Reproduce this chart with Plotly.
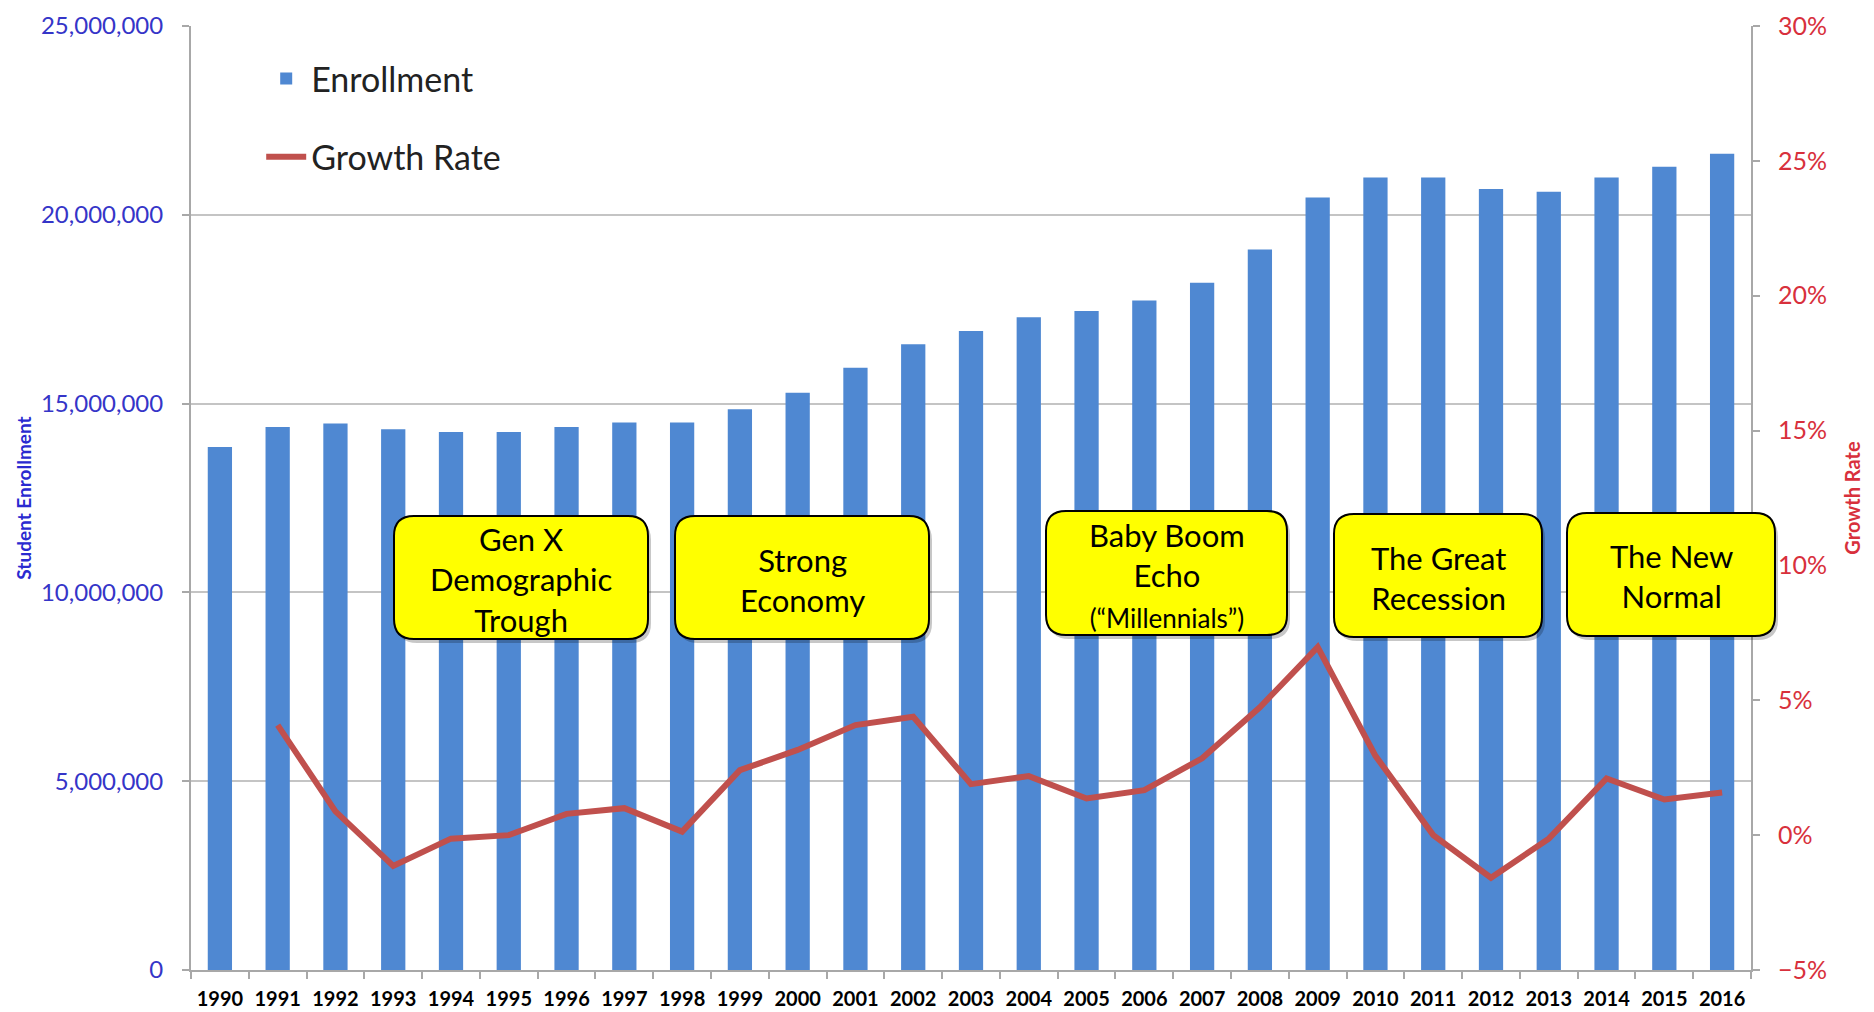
import plotly.graph_objects as go

years = [str(y) for y in range(1990, 2017)]
enrollment = [13850000, 14380000, 14470000, 14320000, 14250000, 14250000, 14380000,
              14500000, 14500000, 14850000, 15290000, 15950000, 16570000, 16920000,
              17290000, 17450000, 17730000, 18200000, 19080000, 20460000, 20990000,
              20990000, 20680000, 20610000, 20990000, 21270000, 21620000]
growth_years = years[1:]
growth_rate = [0.0408, 0.0088, -0.0114, -0.0013, 0.0000, 0.0079, 0.0100, 0.0013,
               0.0241, 0.0316, 0.0408, 0.0439, 0.0189, 0.0219, 0.0136, 0.0167,
               0.0285, 0.0474, 0.0697, 0.0294, 0.0000, -0.0158, -0.0013, 0.0210,
               0.0132, 0.0158]

box_texts = ["Gen X<br>Demographic<br>Trough",
             "Strong<br>Economy",
             "Baby Boom<br>Echo<br><span style='font-size:26px'>(“Millennials”)</span>",
             "The Great<br>Recession",
             "The New<br>Normal"]
# page-pixel boxes (x0, x1, y0, y1)
box_px = [(394, 648, 516, 639), (675, 929, 516, 639), (1046, 1287, 511, 635),
          (1334, 1542, 514, 637), (1567, 1775, 513, 636)]

OFF = 8  # page body margin
W, H = 1874, 1012
L, R, T, B = 191, 1751, 26, 970   # plot area in page pixels
PW, PH = R - L, B - T

def px_to_paper(x, y):
    return (x - L) / PW, (B - y) / PH

def rounded_path(x0, x1, y0, y1, r=20):
    def P(x, y):
        px, py = px_to_paper(x, y)
        return f"{px:.5f},{py:.5f}"
    return (f"M {P(x0 + r, y0)} L {P(x1 - r, y0)} Q {P(x1, y0)} {P(x1, y0 + r)} "
            f"L {P(x1, y1 - r)} Q {P(x1, y1)} {P(x1 - r, y1)} "
            f"L {P(x0 + r, y1)} Q {P(x0, y1)} {P(x0, y1 - r)} "
            f"L {P(x0, y0 + r)} Q {P(x0, y0)} {P(x0 + r, y0)} Z")

fig = go.Figure()
fig.add_trace(go.Bar(x=years, y=enrollment, name="Enrollment",
                     marker=dict(color="#4f88d2", line=dict(width=0)),
                     legendgroup="a"))
fig.add_trace(go.Scatter(x=growth_years, y=growth_rate, name="Growth Rate",
                         mode="lines", line=dict(color="#c0504d", width=6),
                         yaxis="y2", legendgroup="b"))

shapes = []
annotations = []
for (x0, x1, y0, y1), txt in zip(box_px, box_texts):
    shapes.append(dict(type="path", xref="paper", yref="paper",
                       path=rounded_path(x0 + 3, x1 + 3, y0 + 4, y1 + 4),
                       fillcolor="rgba(0,0,0,0.22)", line=dict(width=0), layer="above"))
    shapes.append(dict(type="path", xref="paper", yref="paper",
                       path=rounded_path(x0, x1, y0, y1),
                       fillcolor="#ffff00", line=dict(color="black", width=2), layer="above"))
    cx, cy = px_to_paper((x0 + x1) / 2, (y0 + y1) / 2 + 2)
    annotations.append(dict(xref="paper", yref="paper", x=cx, y=cy, text=txt,
                            showarrow=False, xanchor="center", yanchor="middle",
                            font=dict(family="Lato", size=31, color="black")))

lx, ly = px_to_paper(265, 50)

fig.update_layout(
    width=W, height=H,
    margin=dict(l=L - OFF, r=W - (R - OFF), t=T - OFF, b=H - (B - OFF), autoexpand=False),
    plot_bgcolor="white", paper_bgcolor="white",
    bargap=0.58,
    font=dict(family="Lato"),
    showlegend=True,
    legend=dict(x=0.045, y=ly, xanchor="left", yanchor="top",
                font=dict(family="Lato", size=34, color="#222222"),
                bgcolor="rgba(0,0,0,0)", tracegroupgap=31, traceorder="grouped",
                itemwidth=40),
    xaxis=dict(type="category", showgrid=False, showline=True, linecolor="#a8a8a8",
               linewidth=2, ticks="outside", tickson="boundaries", ticklen=7,
               tickcolor="#a8a8a8", tickwidth=2,
               tickfont=dict(family="Lato", size=20, color="black", weight="bold"),
               ticklabelstandoff=10, tickangle=0),
    yaxis=dict(range=[0, 25000000], dtick=5000000, tickformat=",d",
               showgrid=True, gridcolor="#c4c4c4", gridwidth=2,
               showline=True, linecolor="#a8a8a8", linewidth=2,
               ticks="outside", ticklen=7, tickcolor="#a8a8a8", tickwidth=2,
               tickfont=dict(family="Lato", size=24, color="#3535c8"),
               ticklabelstandoff=14, ticklabeloverflow="allow", zeroline=False,
               title=dict(text="Student Enrollment", standoff=4,
                          font=dict(family="Lato", size=19, color="#2a2ad0", weight="bold"))),
    yaxis2=dict(range=[-0.05, 0.30], dtick=0.05, tickformat=".0%", overlaying="y",
                side="right", showgrid=False, showline=True, linecolor="#a8a8a8",
                linewidth=2, ticks="outside", ticklen=7, tickcolor="#a8a8a8",
                tickwidth=2, zeroline=False, ticklabeloverflow="allow",
                tickfont=dict(family="Lato", size=25, color="#d8303c"),
                ticklabelstandoff=13,
                title=dict(text="Growth Rate", standoff=20,
                           font=dict(family="Lato", size=20, color="#d8303c", weight="bold"))),
    shapes=shapes,
    annotations=annotations,
)

fig.write_html("out.html")
